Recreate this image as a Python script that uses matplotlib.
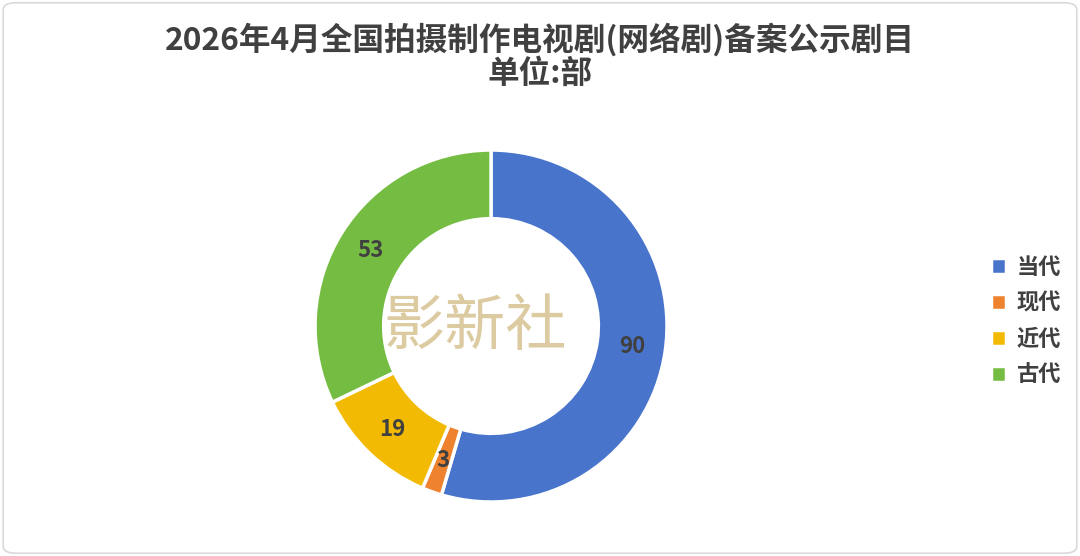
import matplotlib
matplotlib.use("Agg")
import matplotlib.pyplot as plt
from matplotlib.patches import FancyBboxPatch

plt.rcParams['font.family'] = ['Noto Sans CJK SC', 'DejaVu Sans']

# 数据
categories = ['当代', '现代', '近代', '古代']
values = [90, 3, 19, 53]
colors = ['#4874CB', '#EE822F', '#F2BA02', '#75BD42']

title = '2026年4月全国拍摄制作电视剧(网络剧)备案公示剧目'
subtitle = '单位:部'

fig = plt.figure(figsize=(10.8, 5.56), dpi=100)

# 外框
frame = FancyBboxPatch((0.003, 0.005), 0.994, 0.99, boxstyle="round,pad=0,rounding_size=0.012",
                       transform=fig.transFigure, facecolor='white', edgecolor='#D9D9D9',
                       lw=1.2, zorder=-5)
fig.patches.append(frame)

ax = fig.add_axes([0.2917, 0.0971, 0.3259, 0.6331])
ax.set_zorder(2)
ax.patch.set_visible(False)
wedges, texts, autotexts = ax.pie(
    values, colors=colors, startangle=90, counterclock=False, radius=1.0,
    autopct=lambda p: f'{p * sum(values) / 100:.0f}', pctdistance=0.81,
    wedgeprops=dict(width=0.39, edgecolor='white', linewidth=2.5),
    textprops=dict(fontsize=16, fontweight='bold', color='#404040'))
ax.set_xlim(-1, 1)
ax.set_ylim(-1, 1)
ax.set_aspect('equal')
ax.axis('off')

# 水印
fig.text(0.44, 0.41, '影新社', fontsize=44, color='#D9C597', alpha=0.9,
         ha='center', va='center', style='italic', fontweight='light', zorder=10)

fig.text(0.5, 0.928, title, ha='center', va='center', fontsize=22.8,
         fontweight='heavy', color='#404040')
fig.text(0.5, 0.868, subtitle, ha='center', va='center', fontsize=22.8,
         fontweight='heavy', color='#404040')

leg = fig.legend(wedges, categories, loc='center left', bbox_to_anchor=(0.899, 0.422),
                 frameon=False, fontsize=16, handlelength=0.7, handleheight=0.7,
                 labelspacing=0.58, handletextpad=0.45)
for t in leg.get_texts():
    t.set_fontweight('bold')
    t.set_color('#404040')

fig.savefig('out.png', dpi=100)
